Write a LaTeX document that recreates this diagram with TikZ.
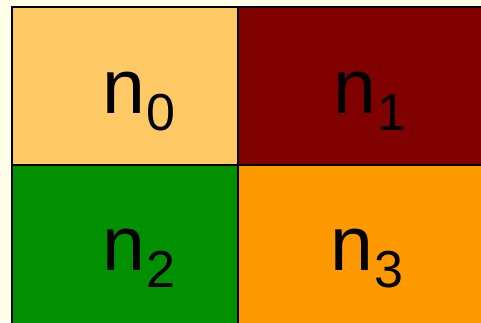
\documentclass[tikz,border=0pt]{standalone}
\usepackage{fontspec}
\setmainfont{Liberation Sans}
\usetikzlibrary{positioning}
\usepackage{xcolor}
\definecolor{bgcream}{RGB}{255,255,232}
\definecolor{peach}{RGB}{255,201,102}
\definecolor{maroon}{RGB}{128,0,0}
\definecolor{leafgreen}{RGB}{0,144,0}
\definecolor{amber}{RGB}{255,153,0}
\newcommand{\procname}[1]{n\hspace{1pt}\raisebox{-17pt}{\fontsize{52}{52}\selectfont #1}}

\begin{document}
\begin{tikzpicture}[x=1pt, y=-1pt,
    nodetext/.style={anchor=base west, inner sep=0pt, font=\fontsize{77}{80}\selectfont},
    gridline/.style={line width=2pt, black}]
    \fill[bgcream] (0,0) rectangle (481,322);
    \useasboundingbox (0,0) rectangle (481,322);
    \clip (0,0) rectangle (481,322);
    \fill[peach] (12,7) rectangle (238,165);
    \fill[maroon] (238,7) rectangle (490,165);
    \fill[leafgreen] (12,165) rectangle (238,330);
    \fill[amber] (238,165) rectangle (490,330);
    \draw[gridline] (12,330) -- (12,7) -- (490,7);
    \draw[gridline] (238,7) -- (238,330);
    \draw[gridline] (12,165) -- (490,165);
    \node[nodetext] (n0) at (102,113) {\procname{0}};
    \node[nodetext] (n1) at (333,113) {\procname{1}};
    \node[nodetext] (n2) at (102,270) {\procname{2}};
    \node[nodetext] (n3) at (330,270) {\procname{3}};
\end{tikzpicture}
\end{document}
